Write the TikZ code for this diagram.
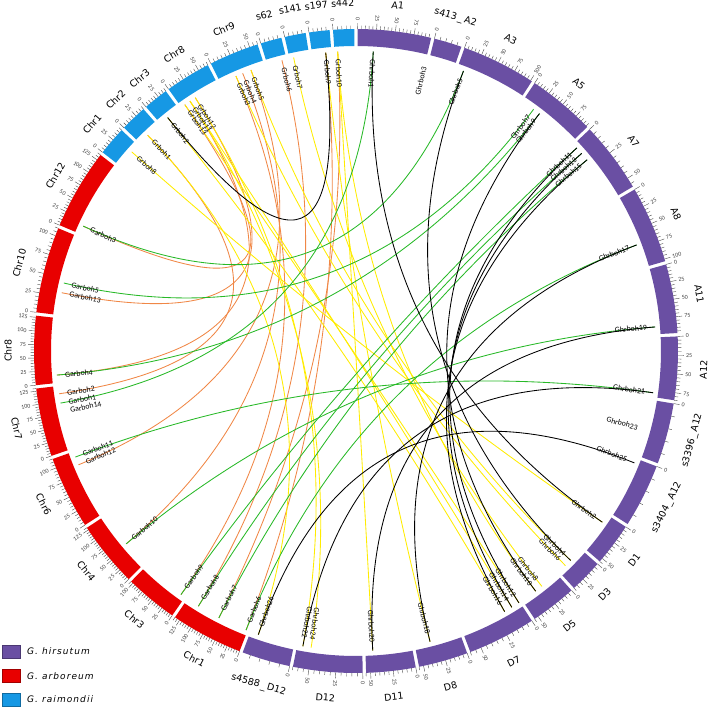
\documentclass[tikz,border=0pt]{standalone}
\usepackage{fontspec}
\setmainfont{Carlito}
\newfontfamily\chrfont{DejaVu Sans}
\newfontfamily\legfont{DejaVu Sans Oblique}[LetterSpace=12]
\usetikzlibrary{calc}
\pgfdeclarelayer{links}
\pgfsetlayers{links,main}

\definecolor{hir}{RGB}{106,79,163}
\definecolor{arb}{RGB}{232,0,0}
\definecolor{rai}{RGB}{22,152,228}
\definecolor{lkgreen}{RGB}{40,185,40}
\definecolor{lkorange}{RGB}{240,135,70}
\definecolor{lkyellow}{RGB}{255,236,0}

\tikzset{
  genelbl/.style={font=\fontsize{7.8}{8}\selectfont,inner sep=0pt},
  ticklbl/.style={font=\fontsize{6}{6}\selectfont,text=black!75,inner sep=0pt},
  chrlbl/.style={font=\chrfont\fontsize{9.5}{10}\selectfont,inner sep=0pt},
  tickln/.style={draw=black!70,line width=0.4pt},
  lk/.style={line width=0.85pt},
  legbox/.style={minimum width=18pt,minimum height=13pt,inner sep=0pt},
  legtxt/.style={font=\legfont\fontsize{9}{10}\selectfont,inner sep=0pt,anchor=west}
}

\newcommand{\gene}[2]{%
  \coordinate (#1) at (#2:300);
  \pgfmathtruncatemacro\flip{((#2>78)&&(#2<255))||(#2<-105)}%
  \ifnum\flip=1
    \node[genelbl,anchor=west,rotate=#2+180] (#1-t) at (#2:292) {#1};
  \else
    \node[genelbl,anchor=east,rotate=#2] (#1-t) at (#2:292) {#1};
  \fi}
\newcommand{\chord}[3]{%
  \begin{pgfonlayer}{links}
  \draw[lk,#1] (#2) .. controls ($(#2)!0.667!(O)$) and ($(#3)!0.667!(O)$) .. (#3);
  \end{pgfonlayer}}

\begin{document}
\begin{tikzpicture}[x=1pt,y=1pt]
\useasboundingbox (-356,-356) rectangle (353,351);
\coordinate (O) at (0,0);

\foreach \sa/\ea/\seglen/\lab/\id/\col in {
  90/76.2/98/A1/hA1/hir, 76.2/70.6/24/{s413\,\_\,A2}/hA2/hir,
  70.6/56.6/102/A3/hA3/hir, 56.6/43.8/97/A5/hA5/hir,
  43.8/30.4/58/A7/hA7/hir, 30.4/15.9/103/A8/hA8/hir,
  15.9/2.9/98/A11/hA11/hir, 2.9/-9.1/85/A12/hA12/hir,
  -9.1/-20.7/24/{s3396\,\_\,A12}/hS3396/hir, -20.7/-32.8/24/{s3404\,\_\,A12}/hS3404/hir,
  -32.8/-41.1/55/D1/hD1/hir, -41.1/-47.7/40/D3/hD3/hir,
  -47.7/-56.6/55/D5/hD5/hir, -56.6/-69.5/60/D7/hD7/hir,
  -69.5/-79/55/D8/hD8/hir, -79/-88.5/55/D11/hD11/hir,
  -88.5/-101.6/65/D12/hD12/hir, -101.6/-110.9/24/{s4588\,\_\,D12}/hS4588/hir,
  -110.9/-124.5/135/Chr1/aC1/arb, -124.5/-134.6/105/Chr3/aC3/arb,
  -134.6/-147/130/Chr4/aC4/arb, -147/-160.7/115/Chr6/aC6/arb,
  -160.7/-173.6/130/Chr7/aC7/arb, -173.6/-186.6/128/Chr8/aC8/arb,
  -186.6/-202.7/110/Chr10/aC10/arb, -202.7/-217.8/135/Chr12/aC12/arb,
  -217.8/-223.6/45/Chr1/rC1/rai, -223.6/-229/40/Chr2/rC2/rai,
  -229/-234.1/40/Chr3/rC3/rai, -234.1/-242.9/65/Chr8/rC8/rai,
  -242.9/-252.5/60/Chr9/rC9/rai, -252.5/-256.9/24/s62/rS62/rai,
  -256.9/-261.3/24/s141/rS141/rai, -261.3/-265.6/24/s197/rS197/rai,
  -265.6/-270/24/s442/rS442/rai}{
  \fill[\col] ({\sa-0.3}:305pt) arc[start angle=\sa-0.3,end angle=\ea+0.3,radius=305pt]
    -- ({\ea+0.3}:322pt) arc[start angle=\ea+0.3,end angle=\sa-0.3,radius=322pt] -- cycle;
  \foreach \k in {0,5,...,\seglen}{
    \pgfmathsetmacro\ta{\sa-0.3-(\sa-\ea-0.6)*\k/\seglen}
    \pgfmathtruncatemacro\ismaj{mod(\k,25)==0}
    \ifnum\ismaj=1
      \pgfmathsetmacro\tn{\ta<0 ? \ta+360 : \ta}
      \pgfmathtruncatemacro\flip{(\tn>78)&&(\tn<255)}
      \draw[tickln] (\ta:322) -- (\ta:328);
      \ifnum\flip=1
        \node[ticklbl,anchor=east,rotate=\tn+180] (\id-\k) at (\ta:330) {\k};
      \else
        \node[ticklbl,anchor=west,rotate=\tn] (\id-\k) at (\ta:330) {\k};
      \fi
    \else
      \draw[tickln] (\ta:322) -- (\ta:325.5);
    \fi
  }
  \pgfmathsetmacro\m{(\sa+\ea)/2}
  \pgfmathsetmacro\mm{\m<0 ? \m+360 : \m}
  \pgfmathsetmacro\rot{\mm<180 ? \mm-90 : \mm+90}
  \node[chrlbl,rotate=\rot] (\id) at (\m:348) {\lab};
}

\gene{Grboh10}{93.5}
\gene{Grboh9}{95.8}
\gene{Grboh7}{102}
\gene{Grboh6}{104.3}
\gene{Grboh5}{110.5}
\gene{Grboh4}{112.2}
\gene{Grboh3}{113.6}
\gene{Grboh12}{122.4}
\gene{Grboh11}{123.6}
\gene{Grboh13}{124.8}
\gene{Grboh2}{128.9}
\gene{Grboh1}{134}
\gene{Grboh8}{138.4}

\gene{Garboh3}{155.4}
\gene{Garboh5}{166.9}
\gene{Garboh13}{168.8}
\gene{Garboh4}{184.6}
\gene{Garboh2}{188.2}
\gene{Garboh1}{190}
\gene{Garboh14}{191.7}
\gene{Garboh11}{200.7}
\gene{Garboh12}{202.3}
\gene{Garboh10}{220}
\gene{Garboh9}{234.3}
\gene{Garboh8}{238.3}
\gene{Garboh7}{242.8}
\gene{Garboh6}{248.5}

\gene{Ghrboh1}{86.7}
\gene{Ghrboh3}{76.5}
\gene{Ghrboh5}{69}
\gene{Ghrboh7}{53.7}
\gene{Ghrboh9}{52.3}
\gene{Ghrboh11}{42.6}
\gene{Ghrboh13}{41.2}
\gene{Ghrboh15}{39.6}
\gene{Ghrboh17}{20.7}
\gene{Ghrboh19}{4.6}
\gene{Ghrboh21}{-8}
\gene{Ghrboh23}{-15.2}
\gene{Ghrboh25}{-21.9}
\gene{Ghrboh2}{-34.8}
\gene{Ghrboh4}{-44.3}
\gene{Ghrboh6}{-45.7}
\gene{Ghrboh8}{-51.7}
\gene{Ghrboh10}{-53.2}
\gene{Ghrboh12}{-57.1}
\gene{Ghrboh14}{-58.7}
\gene{Ghrboh16}{-60.3}
\gene{Ghrboh18}{-75.7}
\gene{Ghrboh20}{-86.8}
\gene{Ghrboh24}{-98.6}
\gene{Ghrboh22}{-100.2}
\gene{Ghrboh26}{-109}

\chord{lkorange}{Grboh13}{Garboh3}
\chord{lkorange}{Grboh12}{Garboh13}
\chord{lkorange}{Grboh11}{Garboh4}
\chord{lkorange}{Grboh1}{Garboh2}
\chord{lkorange}{Grboh5}{Garboh12}
\chord{lkorange}{Grboh4}{Garboh10}
\chord{lkorange}{Grboh3}{Garboh9}
\chord{lkorange}{Grboh6}{Garboh8}
\chord{lkorange}{Grboh10}{Garboh7}
\chord{lkorange}{Grboh9}{Garboh6}

\chord{lkyellow}{Grboh8}{Ghrboh2}
\chord{lkyellow}{Grboh5}{Ghrboh4}
\chord{lkyellow}{Grboh3}{Ghrboh6}
\chord{lkyellow}{Grboh7}{Ghrboh8}
\chord{lkyellow}{Grboh10}{Ghrboh10}
\chord{lkyellow}{Grboh13}{Ghrboh12}
\chord{lkyellow}{Grboh11}{Ghrboh14}
\chord{lkyellow}{Grboh2}{Ghrboh16}
\chord{lkyellow}{Grboh9}{Ghrboh18}
\chord{lkyellow}{Grboh10}{Ghrboh20}
\chord{lkyellow}{Grboh12}{Ghrboh22}
\chord{lkyellow}{Grboh11}{Ghrboh24}
\chord{lkyellow}{Grboh1}{Ghrboh26}

\chord{lkgreen}{Garboh3}{Ghrboh5}
\chord{lkgreen}{Garboh5}{Ghrboh7}
\chord{lkgreen}{Garboh4}{Ghrboh9}
\chord{lkgreen}{Garboh1}{Ghrboh1}
\chord{lkgreen}{Garboh11}{Ghrboh21}
\chord{lkgreen}{Garboh10}{Ghrboh19}
\chord{lkgreen}{Garboh9}{Ghrboh11}
\chord{lkgreen}{Garboh8}{Ghrboh13}
\chord{lkgreen}{Garboh7}{Ghrboh15}
\chord{lkgreen}{Garboh6}{Ghrboh17}

\chord{black}{Grboh2}{Grboh9}
\chord{black}{Ghrboh1}{Ghrboh2}
\chord{black}{Ghrboh5}{Ghrboh4}
\chord{black}{Ghrboh9}{Ghrboh10}
\chord{black}{Ghrboh11}{Ghrboh12}
\chord{black}{Ghrboh13}{Ghrboh14}
\chord{black}{Ghrboh15}{Ghrboh16}
\chord{black}{Ghrboh17}{Ghrboh18}
\chord{black}{Ghrboh19}{Ghrboh20}
\chord{black}{Ghrboh21}{Ghrboh22}
\chord{black}{Ghrboh25}{Ghrboh26}

\node[legbox,fill=hir,draw=hir!70!black] (lgh) at (-345,-300.5) {};
\node[legtxt] (lgh-t) at (-329,-300.5) {G. hirsutum};
\node[legbox,fill=arb,draw=arb!70!black] (lga) at (-345,-325) {};
\node[legtxt] (lga-t) at (-329,-325) {G. arboreum};
\node[legbox,fill=rai,draw=rai!70!black] (lgr) at (-345,-348.5) {};
\node[legtxt] (lgr-t) at (-329,-348.5) {G. raimondii};
\end{tikzpicture}
\end{document}
